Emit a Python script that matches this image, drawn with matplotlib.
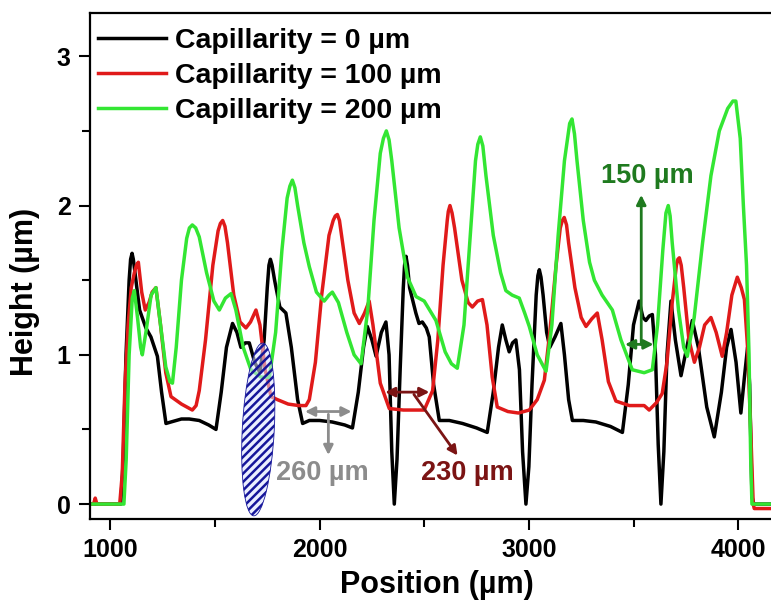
import numpy as np
import matplotlib
matplotlib.use('Agg')
import matplotlib.pyplot as plt
from matplotlib.patches import Ellipse
from matplotlib.transforms import IdentityTransform

plt.rcParams['font.family'] = ['Liberation Sans', 'DejaVu Sans']
plt.rcParams['font.weight'] = 'bold'
plt.rcParams['hatch.linewidth'] = 1.8

# Perfis de altura
x_0 = [903, 1050, 1062, 1075, 1090, 1097, 1104, 1110, 1118, 1140, 1170, 1194, 1225, 1245, 1266, 1290,
       1340, 1377, 1425, 1470, 1505, 1530, 1555, 1584, 1605, 1624, 1645, 1664, 1690, 1715,
       1735, 1750, 1758, 1765, 1773, 1785, 1810, 1839, 1865, 1895, 1919, 1951, 2000, 2060, 2120, 2157,
       2185, 2210, 2228, 2250, 2270, 2295, 2317, 2332, 2345, 2357, 2370, 2385, 2400, 2406, 2413,
       2420, 2430, 2460, 2475, 2491, 2510, 2524, 2545, 2572, 2620, 2683, 2750, 2801, 2830, 2855,
       2873, 2890, 2906, 2922, 2938, 2955, 2970, 2986, 3000, 3015, 3035, 3043, 3050, 3058, 3068, 3085,
       3100, 3125, 3153, 3170, 3190, 3208, 3260, 3320, 3390, 3447, 3475, 3500, 3527, 3545,
       3559, 3575, 3590, 3605, 3618, 3631, 3645, 3660, 3679, 3700, 3727, 3755, 3781, 3810,
       3850, 3886, 3920, 3945, 3966, 3990, 4013, 4030, 4045, 4055, 4066, 4075, 4160]
h_0 = [0, 0, 0.3, 1.0, 1.5, 1.64, 1.68, 1.64, 1.55, 1.30, 1.18, 1.12, 0.99, 0.75, 0.54, 0.55,
       0.57, 0.57, 0.56, 0.53, 0.50, 0.75, 1.05, 1.21, 1.15, 1.05, 1.08, 1.08, 0.95, 0.88,
       1.10, 1.45, 1.60, 1.64, 1.60, 1.50, 1.32, 1.28, 1.05, 0.70, 0.54, 0.56, 0.56, 0.55, 0.53, 0.51,
       0.75, 1.05, 1.19, 1.10, 0.99, 1.15, 1.22, 1.00, 0.35, 0.0, 0.3, 0.9, 1.45, 1.60, 1.66,
       1.60, 1.45, 1.28, 1.21, 1.22, 1.18, 1.12, 0.80, 0.56, 0.56, 0.54, 0.51, 0.48, 0.75, 1.05,
       1.20, 1.10, 1.02, 1.08, 1.10, 0.90, 0.35, 0.0, 0.25, 0.8, 1.40, 1.53, 1.57, 1.52, 1.40, 1.15,
       1.05, 1.12, 1.21, 1.00, 0.70, 0.56, 0.56, 0.55, 0.52, 0.48, 0.80, 1.20, 1.36, 1.25,
       1.23, 1.26, 1.27, 1.00, 0.40, 0.0, 0.35, 1.0, 1.36, 1.10, 0.86, 1.05, 1.23, 1.05,
       0.65, 0.45, 0.75, 1.05, 1.17, 0.95, 0.61, 0.85, 1.05, 0.8, 0.05, 0.0, 0.0]

x_100 = [903, 920, 928, 936, 1045, 1057, 1070, 1085, 1100, 1115, 1125, 1134, 1150, 1167,
         1185, 1200, 1218, 1240, 1265, 1290, 1340, 1392, 1410, 1425, 1455, 1490, 1515, 1526, 1537,
         1548, 1560, 1590, 1620, 1648, 1670, 1696, 1715, 1740, 1768, 1798, 1850, 1900, 1935, 1951,
         1980, 2010, 2045, 2065, 2075, 2085, 2095, 2105, 2135, 2165, 2190, 2215, 2237, 2255, 2290, 2333,
         2400, 2500, 2540, 2565, 2590, 2610, 2615, 2623, 2633, 2645, 2680, 2710, 2730, 2755, 2778, 2800,
         2825, 2849, 2900, 2950, 3002, 3040, 3074, 3100, 3130, 3150, 3160, 3169, 3180, 3190, 3220, 3250,
         3273, 3300, 3327, 3350, 3380, 3416, 3480, 3551, 3575, 3610, 3637, 3660, 3685, 3705,
         3712, 3719, 3728, 3740, 3765, 3791, 3815, 3840, 3870, 3895, 3924, 3945, 3970, 3996, 4015, 4030,
         4045, 4060, 4072, 4077, 4160]
h_100 = [0, 0, 0.04, 0, 0, 0.2, 0.8, 1.2, 1.45, 1.55, 1.60, 1.62, 1.42, 1.30,
         1.35, 1.42, 1.45, 1.20, 0.88, 0.72, 0.67, 0.63, 0.66, 0.76, 1.10, 1.60, 1.83, 1.88, 1.90,
         1.86, 1.75, 1.40, 1.22, 1.18, 1.22, 1.30, 1.20, 0.90, 0.72, 0.70, 0.67, 0.66, 0.66, 0.70,
         0.95, 1.40, 1.80, 1.90, 1.93, 1.94, 1.90, 1.80, 1.50, 1.28, 1.21, 1.28, 1.36, 1.20, 0.81, 0.64,
         0.63, 0.63, 0.76, 1.10, 1.60, 1.90, 1.96, 2.00, 1.95, 1.85, 1.50, 1.35, 1.32, 1.36, 1.37, 1.20,
         0.85, 0.65, 0.62, 0.61, 0.63, 0.70, 0.83, 1.15, 1.60, 1.85, 1.90, 1.92, 1.87, 1.75, 1.45, 1.25,
         1.19, 1.24, 1.28, 1.10, 0.82, 0.69, 0.66, 0.66, 0.63, 0.68, 0.74, 0.95, 1.35, 1.60,
         1.64, 1.65, 1.60, 1.45, 1.10, 0.95, 1.05, 1.20, 1.25, 1.15, 0.99, 1.15, 1.40, 1.52, 1.45, 1.37,
         1.05, 0.50, 0.0, -0.03, -0.03]

x_200 = [903, 1065, 1076, 1090, 1105, 1115, 1130, 1145, 1153, 1170, 1195, 1218, 1240, 1265,
         1285, 1297, 1315, 1340, 1365, 1378, 1392, 1408, 1425, 1460, 1495, 1521, 1550, 1577, 1600, 1635,
         1672, 1720, 1760, 1790, 1820, 1845, 1858, 1870, 1882, 1895, 1925, 1951, 1985, 2022, 2045, 2061,
         2090, 2130, 2165, 2198, 2230, 2260, 2290, 2305, 2319, 2332, 2345, 2380, 2420, 2461, 2500, 2556,
         2600, 2630, 2658, 2690, 2720, 2745, 2756, 2768, 2780, 2795, 2830, 2865, 2890, 2920, 2954, 2980,
         3002, 3040, 3082, 3110, 3140, 3170, 3195, 3206, 3218, 3230, 3260, 3290, 3313, 3350, 3399,
         3440, 3494, 3551, 3590, 3615, 3640, 3655, 3666, 3675, 3685, 3715, 3740, 3757, 3790, 3830,
         3870, 3910, 3950, 3975, 3989, 4010, 4025, 4040, 4052, 4060, 4066, 4160]
h_200 = [0, 0, 0.3, 1.0, 1.38, 1.43, 1.25, 1.05, 1.00, 1.15, 1.40, 1.45, 1.20, 0.92,
         0.82, 0.81, 1.05, 1.50, 1.78, 1.85, 1.87, 1.85, 1.79, 1.55, 1.36, 1.30, 1.38, 1.41, 1.30, 1.05,
         0.90, 0.85, 0.85, 1.15, 1.70, 2.05, 2.13, 2.17, 2.12, 2.00, 1.75, 1.59, 1.42, 1.36, 1.40, 1.42,
         1.35, 1.15, 1.00, 0.94, 1.30, 1.90, 2.35, 2.45, 2.50, 2.44, 2.30, 1.85, 1.52, 1.39, 1.36, 1.23,
         1.02, 0.94, 0.91, 1.20, 1.80, 2.30, 2.41, 2.46, 2.40, 2.20, 1.80, 1.55, 1.43, 1.40, 1.38, 1.28,
         1.19, 1.00, 0.89, 1.20, 1.80, 2.30, 2.55, 2.58, 2.48, 2.30, 1.90, 1.62, 1.50, 1.40, 1.30,
         1.10, 0.90, 0.88, 0.90, 1.20, 1.70, 1.95, 2.00, 1.93, 1.75, 1.30, 1.05, 0.99, 1.25, 1.75,
         2.20, 2.50, 2.65, 2.70, 2.70, 2.45, 2.00, 1.60, 1.00, 0.30, 0.0, 0.0]

fig = plt.figure(figsize=(7.71, 6.02), dpi=100)
ax = fig.add_axes([90 / 771, 1 - 519 / 602, 681 / 771, 506 / 602])

ax.plot(x_0, h_0, color='black', lw=2.5, label='Capillarity = 0 µm', solid_joinstyle='round')
ax.plot(x_100, h_100, color='#e01a1a', lw=2.5, label='Capillarity = 100 µm', solid_joinstyle='round')
ax.plot(x_200, h_200, color='#33e633', lw=2.5, label='Capillarity = 200 µm', solid_joinstyle='round')

ax.set_xlim(903, 4157)
ax.set_ylim(-0.1, 3.29)
ax.set_xticks([1000, 2000, 3000, 4000])
ax.set_xticks([1500, 2500, 3500], minor=True)
ax.set_yticks([0, 1, 2, 3])
ax.set_yticks([0.5, 1.5, 2.5], minor=True)
ax.tick_params(which='both', direction='out', width=1.5, labelsize=18, pad=6)
ax.tick_params(which='major', length=8)
ax.tick_params(which='minor', length=5.5)
for s in ['left', 'top', 'bottom']:
    ax.spines[s].set_linewidth(1.6)
ax.spines['right'].set_visible(False)

ax.set_xlabel('Position (µm)', fontsize=22, fontweight='bold')
ax.set_ylabel('Height (µm)', fontsize=22, fontweight='bold')
ax.xaxis.label.set_va('center')
ax.yaxis.label.set_va('center')
ax.xaxis.set_label_coords(0.5095, -0.130)
ax.yaxis.set_label_coords(-0.0954, 0.449)

ax.legend(loc='upper left', bbox_to_anchor=(-0.0133, 1.005), frameon=False, fontsize=20.5,
          handlelength=2.4, handletextpad=0.3, labelspacing=0.32, borderaxespad=0.2)

# Anotacoes com setas
gray = '#8c8c8c'
ax.annotate('', xy=(1917, 0.62), xytext=(2166, 0.62),
            arrowprops=dict(arrowstyle='<|-|>', color=gray, lw=2, mutation_scale=14))
ax.annotate('', xy=(2042, 0.31), xytext=(2042, 0.62),
            arrowprops=dict(arrowstyle='-|>', color=gray, lw=2, mutation_scale=14))
ax.text(2013, 0.21, '260 µm', color=gray, fontsize=19.5, ha='center', va='center')

dred = '#7b1414'
ax.annotate('', xy=(2300, 0.75), xytext=(2538, 0.75),
            arrowprops=dict(arrowstyle='<|-|>', color=dred, lw=2, mutation_scale=14))
ax.annotate('', xy=(2667, 0.31), xytext=(2443, 0.75),
            arrowprops=dict(arrowstyle='-|>', color=dred, lw=2, mutation_scale=14))
ax.text(2706, 0.21, '230 µm', color=dred, fontsize=19.5, ha='center', va='center')

dgreen = '#1f7a1f'
ax.annotate('', xy=(3446, 1.07), xytext=(3609, 1.07),
            arrowprops=dict(arrowstyle='<|-|>', color=dgreen, lw=2, mutation_scale=14))
ax.annotate('', xy=(3537, 2.09), xytext=(3537, 1.05),
            arrowprops=dict(arrowstyle='-|>', color=dgreen, lw=2, mutation_scale=14))
ax.text(3566, 2.2, '150 µm', color=dgreen, fontsize=19.5, ha='center', va='center')

# Elipse hachurada (em pixels)
cx, cy = ax.transData.transform((1707, 0.50))
ell = Ellipse((cx, cy), 32, 173, angle=-3, transform=IdentityTransform(),
              facecolor=(0.86, 0.89, 1.0, 0.55), edgecolor='#16169a', hatch='////', lw=0.6)
fig.patches.append(ell)

fig.savefig('out.png', dpi=100)
